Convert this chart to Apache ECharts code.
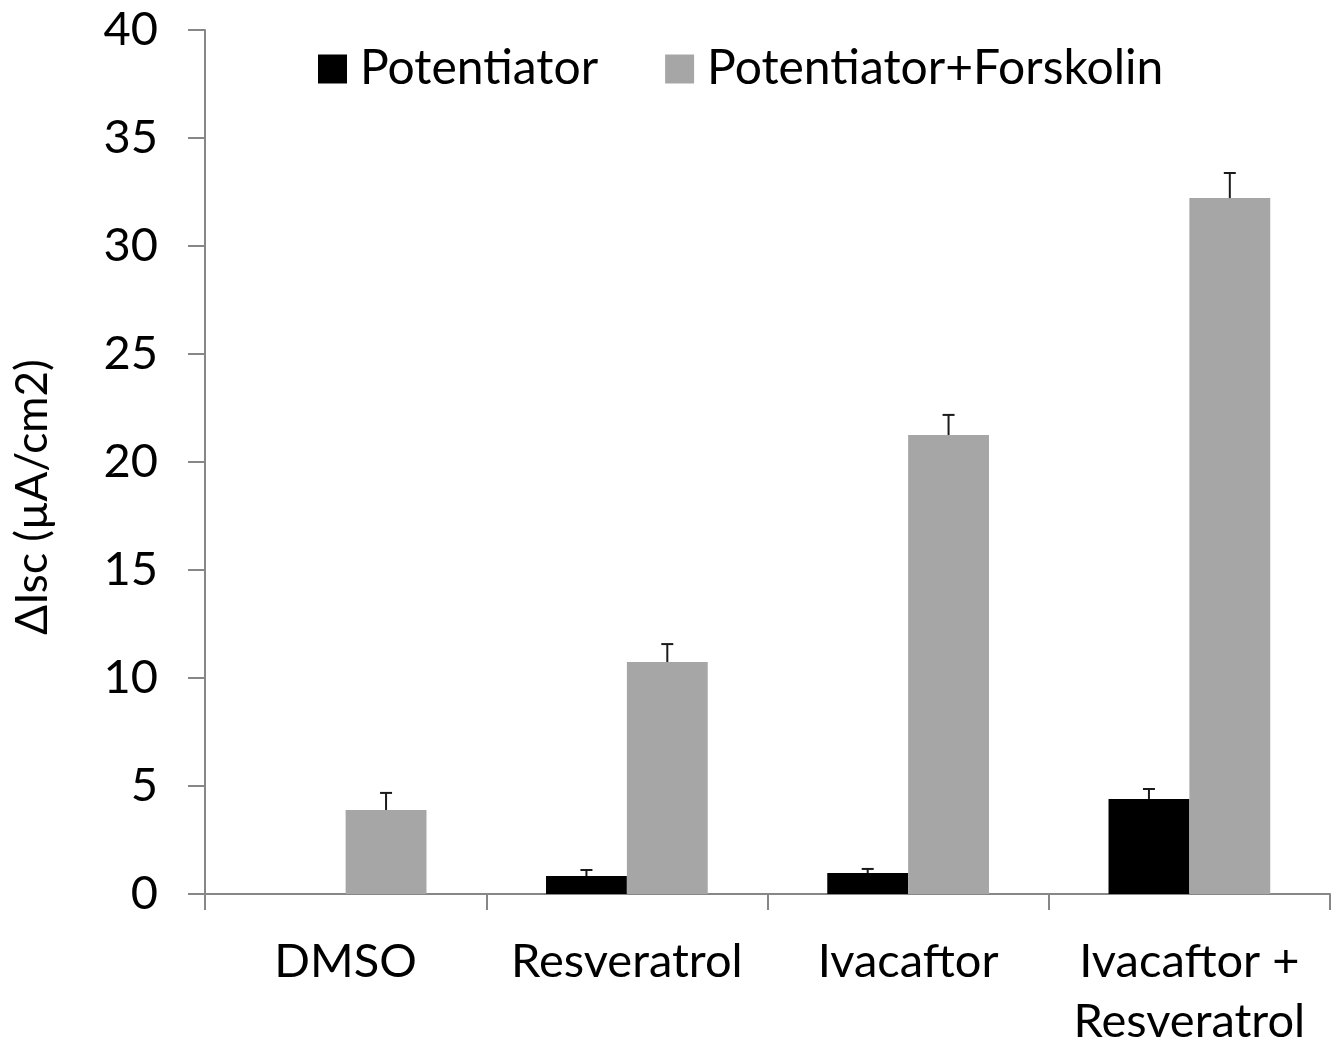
<!DOCTYPE html>
<html><head><meta charset="utf-8">
<script src="https://cdn.jsdelivr.net/npm/echarts@6/dist/echarts.min.js"></script>
<style>html,body{margin:0;padding:0;background:#fff}#c{width:1341px;height:1046px}</style>
</head><body><div id="c"></div>
<script>
const categories = ['DMSO', 'Resveratrol', 'Ivacaftor', 'Ivacaftor +\nResveratrol'];
const seriesNames = ['Potentiator', 'Potentiator+Forskolin'];
const potentiator = [0, 0.83, 0.97, 4.40];
const potentiatorErr = [0, 0.28, 0.19, 0.46];
const forskolin = [3.89, 10.74, 21.25, 32.22];
const forskolinErr = [0.79, 0.83, 0.93, 1.16];
const yMin = 0, yMax = 40, yInterval = 5;

const FONT = 'Lato';
const CAT_GAP = 0.425;

function errSeries(idx, vals, errs) {
  return {
    type: 'custom',
    name: seriesNames[idx] + ' err',
    data: vals.map((v, i) => [i, v, v + errs[i]]),
    encode: { x: 0, y: [1, 2] },
    z: 10,
    silent: true,
    renderItem: function (params, api) {
      const base = api.value(1), top = api.value(2);
      if (!(top > base)) return null;
      const x = api.value(0);
      const p0 = api.coord([x, base]);
      const p1 = api.coord([x, top]);
      const band = api.size([1, 0])[0];
      const bw = band * (1 - CAT_GAP) / 2;
      const cx = p0[0] + (idx - 0.5) * bw;
      const st = { stroke: '#1a1a1a', lineWidth: 2 };
      return {
        type: 'group',
        children: [
          { type: 'line', shape: { x1: cx, y1: p0[1], x2: cx, y2: p1[1] }, style: st },
          { type: 'line', shape: { x1: cx - 6, y1: p1[1], x2: cx + 6, y2: p1[1] }, style: st }
        ]
      };
    }
  };
}

const chart = echarts.init(document.getElementById('c'), null, { renderer: 'canvas' });
chart.setOption({
  backgroundColor: '#ffffff',
  animation: false,
  textStyle: { fontFamily: FONT },
  grid: { left: 205, right: 11, top: 30, bottom: 152, containLabel: false, outerBoundsMode: 'none' },
  legend: {
    data: seriesNames,
    left: 313, top: 40,
    itemWidth: 29, itemHeight: 29, itemGap: 67,
    icon: 'rect',
    textStyle: { fontFamily: FONT, fontSize: 48, color: '#000', padding: [0, 0, 0, 8] }
  },
  xAxis: {
    type: 'category',
    data: categories,
    axisLine: { lineStyle: { color: '#878787', width: 2 } },
    axisTick: { show: true, length: 16, lineStyle: { color: '#878787', width: 2 } },
    axisLabel: { fontFamily: FONT, fontSize: 47, color: '#000', margin: 38, lineHeight: 60, interval: 0 }
  },
  yAxis: {
    type: 'value',
    min: yMin, max: yMax, interval: yInterval,
    name: 'ΔIsc (µA/cm2)',
    nameLocation: 'middle',
    nameRotate: 90,
    nameGap: 150,
    nameTextStyle: { fontFamily: FONT, fontSize: 44, color: '#000', padding: [0, 70, 0, 0] },
    axisLine: { show: true, lineStyle: { color: '#878787', width: 2 } },
    axisTick: { show: true, length: 17, lineStyle: { color: '#878787', width: 2 } },
    splitLine: { show: false },
    axisLabel: { fontFamily: FONT, fontSize: 47, color: '#000', margin: 47 }
  },
  series: [
    { type: 'bar', name: seriesNames[0], data: potentiator, barGap: '0%', barCategoryGap: (CAT_GAP * 100) + '%', itemStyle: { color: '#000000' } },
    { type: 'bar', name: seriesNames[1], data: forskolin, barGap: '0%', barCategoryGap: (CAT_GAP * 100) + '%', itemStyle: { color: '#a6a6a6' } },
    errSeries(0, potentiator, potentiatorErr),
    errSeries(1, forskolin, forskolinErr)
  ]
});
</script>
</body></html>
